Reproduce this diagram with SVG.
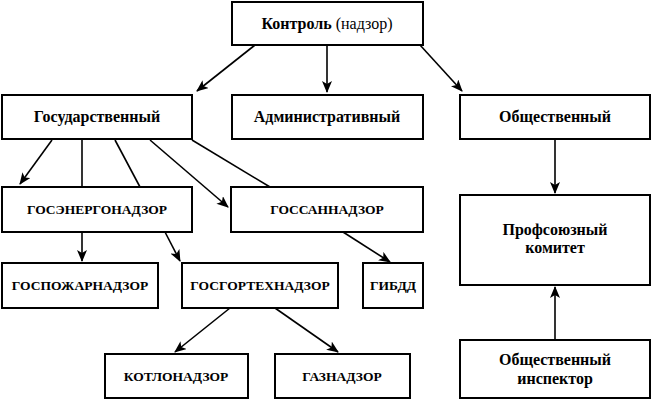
<svg xmlns="http://www.w3.org/2000/svg" width="653" height="400" viewBox="0 0 653 400">
<style>
rect{fill:#fff;stroke:#000;stroke-width:2}
text{font-family:'Liberation Serif','Times New Roman','DejaVu Serif',serif;font-weight:bold;font-size:16px;text-anchor:middle;fill:#000}
text.u{font-size:13.5px}
line{stroke:#000;stroke-width:1.6}
line.a{marker-end:url(#ar)}
</style>
<defs><marker id="ar" markerWidth="12" markerHeight="10" refX="11" refY="5" orient="auto" markerUnits="userSpaceOnUse"><path d="M0,0 L12,5 L0,10 L3,5 Z" fill="#000"/></marker></defs>
<g id="connectors">
<line class="a" x1="255" y1="45" x2="197" y2="91"/>
<line class="a" x1="327" y1="45" x2="327" y2="92"/>
<line class="a" x1="420" y1="45" x2="462" y2="91"/>
<line class="a" x1="52" y1="140" x2="20" y2="184"/>
<line x1="82" y1="140" x2="82" y2="187"/>
<line x1="115" y1="140" x2="140" y2="187"/>
<line class="a" x1="150" y1="140" x2="228" y2="207"/>
<line x1="192" y1="140" x2="270" y2="187"/>
<line class="a" x1="82" y1="232" x2="82" y2="261"/>
<line class="a" x1="165" y1="232" x2="180" y2="261"/>
<line class="a" x1="343" y1="232" x2="390" y2="262"/>
<line class="a" x1="230" y1="308" x2="175" y2="352"/>
<line class="a" x1="275" y1="308" x2="338" y2="352"/>
<line class="a" x1="555" y1="140" x2="555" y2="193"/>
<line class="a" x1="555" y1="340" x2="555" y2="287"/>
</g>
<g id="n1"><rect x="232" y="2" width="191" height="43"/><text x="327" y="29">Контроль <tspan font-weight="normal">(надзор)</tspan></text></g>
<g id="n2"><rect x="2" y="95" width="190" height="44"/><text x="97" y="122">Государственный</text></g>
<g id="n3"><rect x="232" y="95" width="191" height="44"/><text x="327" y="122">Административный</text></g>
<g id="n4"><rect x="460" y="95" width="190" height="44"/><text x="555" y="122">Общественный</text></g>
<g id="n5"><rect x="2" y="187" width="190" height="45"/><text class="u" x="97" y="214">ГОСЭНЕРГОНАДЗОР</text></g>
<g id="n6"><rect x="231" y="187" width="192" height="45"/><text class="u" x="327" y="214">ГОССАННАДЗОР</text></g>
<g id="n7"><rect x="460" y="195" width="190" height="90"/><text x="555" y="235">Профсоюзный</text><text x="555" y="253">комитет</text></g>
<g id="n8"><rect x="2" y="263" width="156" height="45"/><text class="u" x="80" y="290">ГОСПОЖАРНАДЗОР</text></g>
<g id="n9"><rect x="182" y="263" width="156" height="45"/><text class="u" x="260" y="290">ГОСГОРТЕХНАДЗОР</text></g>
<g id="n10"><rect x="363" y="263" width="60" height="45"/><text class="u" x="393" y="290">ГИБДД</text></g>
<g id="n11"><rect x="105" y="354" width="143" height="44"/><text class="u" x="176" y="381">КОТЛОНАДЗОР</text></g>
<g id="n12"><rect x="275" y="354" width="135" height="44"/><text class="u" x="342" y="381">ГАЗНАДЗОР</text></g>
<g id="n13"><rect x="460" y="340" width="190" height="58"/><text x="555" y="365">Общественный</text><text x="555" y="384">инспектор</text></g>
</svg>
